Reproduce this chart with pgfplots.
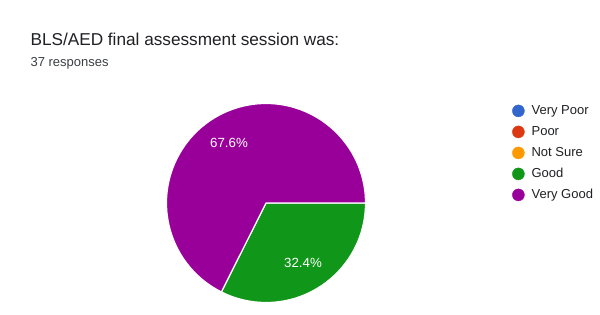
\documentclass[border=0pt]{standalone}
\usepackage{pgfplots}
\pgfplotsset{compat=1.18}
\usepackage{pgfplotstable}
\usepackage{fontspec}
\setmainfont{Liberation Sans}

\definecolor{vpoor}{HTML}{3366CC}
\definecolor{poor}{HTML}{DC3912}
\definecolor{notsure}{HTML}{FF9900}
\definecolor{good}{HTML}{109618}
\definecolor{vgood}{HTML}{990099}
\definecolor{titlegray}{HTML}{202124}
\definecolor{subgray}{HTML}{3C4043}

% share of the 37 responses, in percent
\pgfplotstableread[col sep=comma]{
label,pct,color
Very Poor,0,vpoor
Poor,0,poor
Not Sure,0,notsure
Good,32.4,good
Very Good,67.6,vgood
}\responses

\begin{document}
\begin{tikzpicture}
\useasboundingbox (0,0) rectangle (600pt,314pt);
\fill[white] (0,0) rectangle (600pt,314pt);
\begin{axis}[
  width=600pt, height=314pt, scale only axis,
  xmin=0, xmax=600, ymin=0, ymax=314,
  hide axis, clip=false,
  legend image code/.code={\fill[#1] (0pt,0pt) circle (6pt); \path (-6pt,0pt) (13pt,0pt);},
  legend cell align=left,
  legend style={at={(axis cs:512,209.5)}, anchor=north west,
    draw=none, fill=none, inner sep=0pt, row sep=8.6pt,
    font=\fontsize{13pt}{15pt}\selectfont, text=titlegray,
    nodes={inner sep=0pt}},
]
% pie slices, clockwise from three o'clock
\def\startang{0}
\pgfplotsforeachungrouped \r in {3,4}{%
  \pgfplotstablegetelem{\r}{pct}\of\responses
  \let\val\pgfplotsretval
  \pgfplotstablegetelem{\r}{color}\of\responses
  \let\col\pgfplotsretval
  \pgfmathsetmacro\endang{\startang-3.6*\val}%
  \pgfmathsetmacro\midang{\startang-1.8*\val}%
  \edef\slice{%
    \noexpand\filldraw[fill=\col, draw=white, line width=1.2pt, line join=round]
      (axis cs:266,111) -- ++(\startang:99.5pt)
      arc[start angle=\startang, end angle=\endang, radius=99.5pt] -- cycle;
    \noexpand\node[text=white, font=\noexpand\fontsize{13.3pt}{15pt}\noexpand\selectfont]
      at ([shift={(\midang:70.5pt)}]axis cs:266,111) {\val\noexpand\%};
  }%
  \slice
  \global\let\startang\endang
}

\node[anchor=base west, text=titlegray, font=\fontsize{17.2pt}{20pt}\selectfont]
  at (axis cs:27,269) {BLS/AED final assessment session was:};
\node[anchor=base west, text=subgray, font=\fontsize{13pt}{15pt}\selectfont]
  at (axis cs:27,247.3) {37 responses};

\addlegendimage{vpoor}\addlegendentry{Very Poor}
\addlegendimage{poor}\addlegendentry{Poor}
\addlegendimage{notsure}\addlegendentry{Not Sure}
\addlegendimage{good}\addlegendentry{Good}
\addlegendimage{vgood}\addlegendentry{Very Good}
\end{axis}
\end{tikzpicture}
\end{document}
